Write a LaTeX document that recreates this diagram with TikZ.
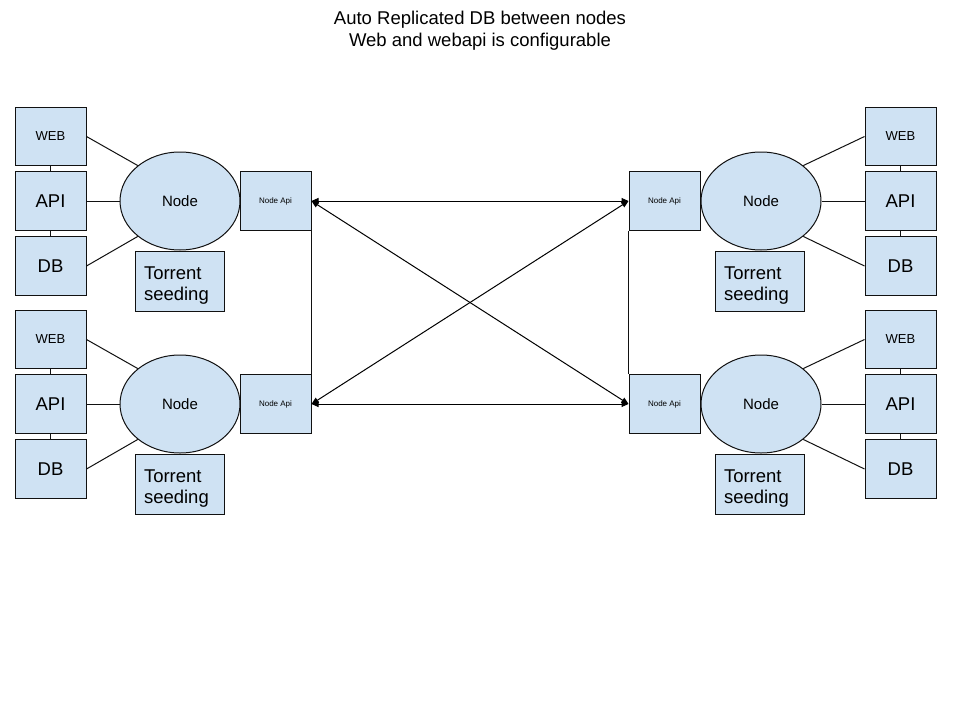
\documentclass[tikz,border=0pt]{standalone}
\usepackage{fontspec}
\setmainfont{Liberation Sans}
\usetikzlibrary{shapes.geometric,arrows.meta}
\definecolor{boxblue}{HTML}{CFE2F3}
\definecolor{lineblk}{HTML}{111111}
\tikzset{
  bx/.style={draw=lineblk, line width=1pt, fill=boxblue, inner sep=0pt, minimum width=71pt, minimum height=58.5pt},
  webbox/.style={bx, font=\fontsize{13}{15}\selectfont},
  bigbox/.style={bx, font=\fontsize{18.5}{21}\selectfont},
  apibox/.style={bx, font=\fontsize{8}{9}\selectfont},
  ellnode/.style={ellipse, draw=lineblk, line width=1pt, fill=boxblue, inner sep=0pt, minimum width=120pt, minimum height=98pt, font=\fontsize{15}{18}\selectfont},
  torbox/.style={draw=lineblk, line width=1pt, fill=boxblue, inner xsep=9pt, inner ysep=0pt, text width=71pt, align=left, minimum height=60pt, font=\fontsize{18.5}{21.5}\selectfont},
  conn/.style={draw=lineblk, line width=1pt},
  dbl/.style={draw=black, line width=1pt, {Triangle[length=7pt,width=6pt]}-{Triangle[length=7pt,width=6pt]}},
}
\newcommand\mycluster[6]{%
  \node[webbox] (#1web) at (#2,#6-64.5) {WEB};
  \node[bigbox] (#1api) at (#2,#6) {API};
  \node[bigbox] (#1db) at (#2,#6+65) {DB};
  \node[ellnode] (#1ell) at (#3,#6) {Node};
  \node[apibox] (#1na) at (#4,#6) {Node Api};
  \node[torbox] (#1tor) at (#5,#6+80) {\rule{0pt}{22pt}Torrent\\seeding};
  \draw[conn] (#1web.south) -- (#1api.north);
  \draw[conn] (#1api.south) -- (#1db.north);
}
\begin{document}
\begin{tikzpicture}[x=1pt,y=-1pt]
\useasboundingbox[fill=white] (0,0) rectangle (960,720);
\node[align=center, font=\fontsize{18.5}{22}\selectfont] (title) at (480,31) {Auto Replicated DB between nodes\\Web and webapi is configurable};
\mycluster{A}{50.5}{180}{275.5}{179.5}{201}
\mycluster{B}{50.5}{180}{275.5}{179.5}{404}
\mycluster{C}{900.5}{761}{664.5}{759.5}{201}
\mycluster{D}{900.5}{761}{664.5}{759.5}{404}
\foreach \c in {A,B}{
  \draw[conn] (\c web.east) -- (\c ell.140);
  \draw[conn] (\c api.east) -- (\c ell.west);
  \draw[conn] (\c db.east) -- (\c ell.220);
}
\foreach \c in {C,D}{
  \draw[conn] (\c web.west) -- (\c ell.40);
  \draw[conn] (\c api.west) -- (\c ell.east);
  \draw[conn] (\c db.west) -- (\c ell.320);
}
\draw[conn] (Ana.south east) -- (Bna.north east);
\draw[conn] (Cna.south west) -- (Dna.north west);
\draw[dbl] (Ana.east) -- (Cna.west);
\draw[dbl] (Bna.east) -- (Dna.west);
\draw[dbl] (Ana.east) -- (Dna.west);
\draw[dbl] (Bna.east) -- (Cna.west);
\end{tikzpicture}
\end{document}
